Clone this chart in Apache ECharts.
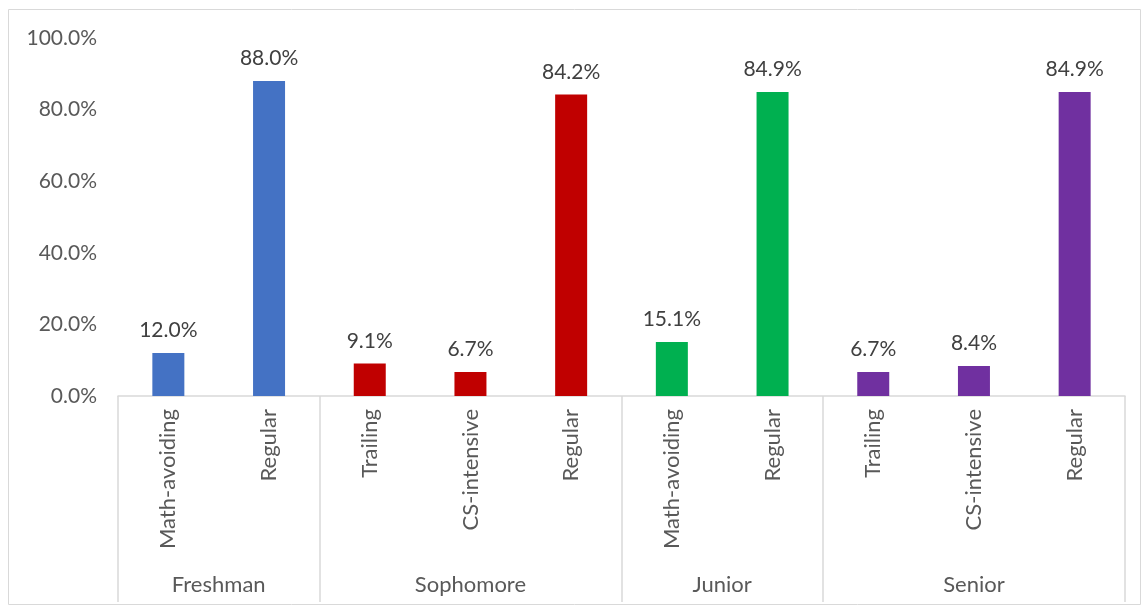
<!DOCTYPE html>
<html><head><meta charset="utf-8">
<script src="https://cdn.jsdelivr.net/npm/echarts@6/dist/echarts.min.js"></script>
<style>html,body{margin:0;padding:0;background:#fff}#c{width:1144px;height:609px}</style>
</head><body><div id="c"></div>
<script>
var categories = ['Math-avoiding','Regular','Trailing','CS-intensive','Regular','Math-avoiding','Regular','Trailing','CS-intensive','Regular'];
var groups = ['Freshman','Sophomore','Junior','Senior'];
var groupSizes = [2,3,2,3];
var values = [12.0, 88.0, 9.1, 6.7, 84.2, 15.1, 84.9, 6.7, 8.4, 84.9];
var groupColors = ['#4472C4','#C00000','#00B050','#7030A0'];
var yTicks = [0,20,40,60,80,100];

var barColors = [], bounds = [0], mids = [], acc = 0;
groupSizes.forEach(function(n, gi){
  for (var i=0;i<n;i++) barColors.push(groupColors[gi]);
  mids.push(acc + n/2);
  acc += n; bounds.push(acc);
});
var FONT = 'Lato';
var TXT = '#595959';
var chart = echarts.init(document.getElementById('c'));
chart.setOption({
  animation:false,
  textStyle:{fontFamily:FONT},
  graphic:[{type:'rect',shape:{x:8.5,y:9.5,width:1132,height:595},style:{fill:'none',stroke:'#d9d9d9',lineWidth:1}}],
  grid:{left:118,right:19,top:38,bottom:213},
  xAxis:[{
    type:'category',data:categories,
    axisLine:{show:true,lineStyle:{color:'#d9d9d9',width:1.5}},
    axisTick:{show:false},
    axisLabel:{rotate:90,margin:13,color:TXT,fontSize:22,fontFamily:FONT,interval:0}
  },{
    type:'value',min:0,max:categories.length,position:'bottom',
    splitLine:{show:false},
    axisLine:{show:false},
    axisTick:{show:true,customValues:bounds,length:206,lineStyle:{color:'#d9d9d9',width:1.5}},
    axisLabel:{customValues:mids,margin:178,color:TXT,fontSize:22,fontFamily:FONT,
      formatter:function(v){var i=mids.indexOf(v);return i>=0?groups[i]:'';}}
  }],
  yAxis:{
    type:'value',min:0,max:100,interval:20,
    axisLine:{show:false},axisTick:{show:false},splitLine:{show:false},
    axisLabel:{margin:21,color:TXT,fontSize:21,fontFamily:FONT,formatter:function(v){return v.toFixed(1)+'%';}}
  },
  series:[{
    type:'bar',xAxisIndex:0,barWidth:32,
    data:values.map(function(v,i){return {value:v,itemStyle:{color:barColors[i]}};}),
    label:{show:true,position:'top',distance:12,color:'#404040',fontSize:21,fontFamily:FONT,
      formatter:function(p){return p.value.toFixed(1)+'%';}}
  }]
});
</script></body></html>
